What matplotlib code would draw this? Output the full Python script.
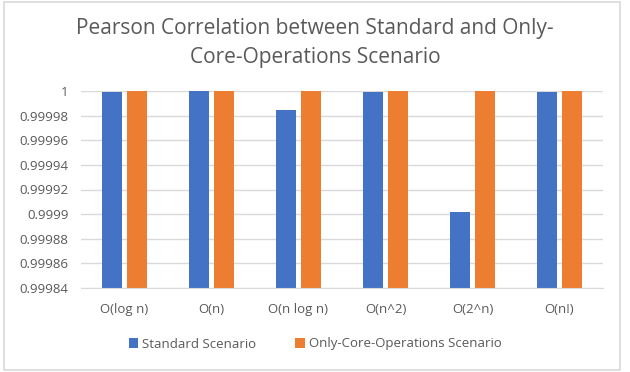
import matplotlib.pyplot as plt
import numpy as np
from matplotlib.patches import Rectangle

# --- DATA ---
categories = ["O(log n)", "O(n)", "O(n log n)", "O(n^2)", "O(2^n)", "O(n!)"]
standard = [0.999999, 1.0, 0.9999846, 0.999999, 0.9999016, 0.999999]
core_only = [1.0, 1.0, 1.0, 1.0, 1.0, 1.0]
yticks = [0.99984, 0.99986, 0.99988, 0.9999, 0.99992, 0.99994, 0.99996, 0.99998, 1]
ytick_labels = ["0.99984", "0.99986", "0.99988", "0.9999", "0.99992",
                "0.99994", "0.99996", "0.99998", "1"]

BLUE = "#4472C4"
ORANGE = "#ED7D31"
TEXT = "#595959"
GRID = "#D9D9D9"

plt.rcParams['font.family'] = ['Open Sans', 'DejaVu Sans']

fig = plt.figure(figsize=(6.3, 3.72), dpi=100)
ax = fig.add_axes([81 / 630, 1 - 288 / 372, 522 / 630, (288 - 91) / 372])

x = np.arange(len(categories))
w = 0.23
ax.bar(x - 0.144, standard, w, color=BLUE, label="Standard Scenario", zorder=2)
ax.bar(x + 0.144, core_only, w, color=ORANGE, label="Only-Core-Operations Scenario", zorder=2)

ax.set_xlim(-0.5, len(categories) - 0.5)
ax.set_ylim(0.99984, 1.0)
ax.set_yticks(yticks)
ax.set_yticklabels(ytick_labels)
ax.set_xticks(x)
ax.set_xticklabels(categories)
ax.yaxis.grid(True, color=GRID, linewidth=1, zorder=0)
ax.set_axisbelow(True)
for s in ["top", "right", "left"]:
    ax.spines[s].set_visible(False)
ax.spines["bottom"].set_color(GRID)
ax.tick_params(axis="both", length=0, colors=TEXT, labelsize=9.5)
ax.tick_params(axis="x", pad=11)
ax.tick_params(axis="y", pad=9)

fig.text(0.5, 1 - 43 / 372, "Pearson Correlation between Standard and Only-\nCore-Operations Scenario",
         ha="center", va="center", fontsize=15, color=TEXT, linespacing=1.45)

fig.legend(loc="center", bbox_to_anchor=(0.5, 1 - 344 / 372), ncol=2, frameon=False,
           fontsize=9.5, labelcolor=TEXT, handlelength=0.7, handleheight=0.7,
           handletextpad=0.3, columnspacing=3.0)

fig.patches.append(Rectangle((4 / 630, 2 / 372), 616 / 630, 368 / 372, transform=fig.transFigure,
                             fill=False, edgecolor=GRID, linewidth=1.2))

fig.savefig("out.png", dpi=100)
